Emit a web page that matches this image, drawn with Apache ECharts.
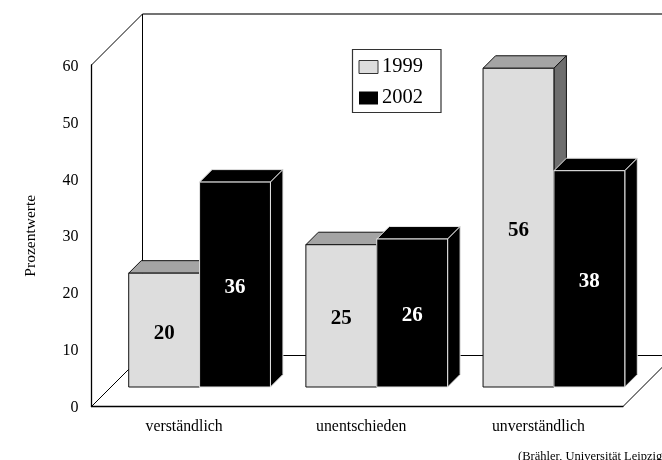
<!DOCTYPE html>
<html>
<head>
<meta charset="utf-8">
<script src="https://cdn.jsdelivr.net/npm/echarts@6/dist/echarts.min.js"></script>
<style>html,body{margin:0;padding:0;background:#fff}#c{width:662px;height:460px}</style>
</head>
<body>
<div id="c"></div>
<script>
const categories = ['verständlich', 'unentschieden', 'unverständlich'];
const values1999 = [20, 25, 56];
const values2002 = [36, 26, 38];
const yTicks = [0, 10, 20, 30, 40, 50, 60];

const SERIF = '"Liberation Serif", "Times New Roman", serif';
const WALL = 51;        // depth of the chart box
const PLANE = 19.5;     // depth at which the bars stand
const BAR_DEPTH = 12.5; // depth of each bar
const BAR_SHARE = 0.4;  // bar width as a share of the category band

const palette = {
  1999: { front: '#dddddd', top: '#a4a4a4', side: '#6e6e6e', edge: '#111111', text: '#000000' },
  2002: { front: '#000000', top: '#000000', side: '#000000', edge: '#e4e4e4', text: '#ffffff' }
};

// Draws one 3D bar: top, side and front faces plus its value.
function barRenderer(year, dir) {
  const c = palette[year];
  return function (params, api) {
    const cat = api.value(0), val = api.value(1);
    const base = api.coord([cat, 0]);
    const head = api.coord([cat, val]);
    const w = api.size([1, 0])[0] * BAR_SHARE;
    const cx = base[0] + PLANE;
    const x0 = dir < 0 ? cx - w : cx, x1 = x0 + w;
    const y0 = head[1] - PLANE, y1 = base[1] - PLANE;
    const d = BAR_DEPTH;
    const edge = { stroke: c.edge, lineWidth: 1 };
    return {
      type: 'group',
      children: [
        { type: 'polygon', shape: { points: [[x0, y0], [x0 + d, y0 - d], [x1 + d, y0 - d], [x1, y0]] },
          style: Object.assign({ fill: c.top }, edge) },
        { type: 'polygon', shape: { points: [[x1, y0], [x1 + d, y0 - d], [x1 + d, y1 - d], [x1, y1]] },
          style: Object.assign({ fill: c.side }, edge) },
        { type: 'rect', shape: { x: x0, y: y0, width: w, height: y1 - y0 },
          style: Object.assign({ fill: c.front }, edge) },
        { type: 'text', x: (x0 + x1) / 2, y: (y0 + y1) / 2 + 3,
          style: { text: String(val), fill: c.text, font: 'bold 21px ' + SERIF,
            align: 'center', verticalAlign: 'middle' } }
      ]
    };
  };
}

// Back wall, side wall and floor outline of the chart box.
function boxRenderer(params) {
  const r = params.coordSys;
  const L = r.x, R = r.x + r.width, T = r.y, B = r.y + r.height;
  const line = (x1, y1, x2, y2, stroke, lineWidth) => ({ type: 'line', shape: { x1, y1, x2, y2 },
    style: { stroke: stroke || '#000', lineWidth: lineWidth || 1 } });
  return {
    type: 'group',
    children: [
      line(L, T, L + WALL, T - WALL),
      line(L + WALL, T - WALL, R + WALL, T - WALL, '#444', 1.3),
      line(L + WALL, T - WALL, L + WALL, B - WALL),
      line(L + WALL, B - WALL, R + WALL, B - WALL),
      line(L, B, L + WALL, B - WALL),
      line(R, B, R + WALL, B - WALL)
    ]
  };
}

const chart = echarts.init(document.getElementById('c'), null, { renderer: 'canvas' });
chart.setOption({
  animation: false,
  backgroundColor: '#ffffff',
  grid: { left: 91.5, top: 65, width: 531.5, height: 341.5 },
  title: {
    text: '(Brähler, Universität Leipzig)',
    left: 518, top: 450.5, padding: 0,
    textStyle: { fontFamily: SERIF, fontSize: 12.5, fontWeight: 'normal', color: '#000' }
  },
  legend: {
    data: [
      { name: '1999', icon: 'rect', itemStyle: { color: palette[1999].front, borderColor: '#333', borderWidth: 1 } },
      { name: '2002', icon: 'rect', itemStyle: { color: palette[2002].front, borderWidth: 0 } }
    ],
    orient: 'vertical',
    left: 352.5, top: 49.5,
    padding: [7, 18, 4, 6],
    itemWidth: 19, itemHeight: 13, itemGap: 10,
    backgroundColor: '#fff', borderColor: '#333', borderWidth: 1.2,
    textStyle: { fontFamily: SERIF, fontSize: 20.5, color: '#000', padding: [0, 0, 0, -1] },
    selectedMode: false
  },
  xAxis: {
    type: 'category',
    data: categories,
    axisLine: { lineStyle: { color: '#000', width: 1.3 } },
    axisTick: { show: false },
    axisLabel: { fontFamily: SERIF, fontSize: 15.8, color: '#000', margin: 12, padding: [0, 0, 0, 8] }
  },
  yAxis: {
    type: 'value', min: yTicks[0], max: yTicks[yTicks.length - 1], interval: yTicks[1] - yTicks[0],
    name: 'Prozentwerte', nameLocation: 'middle', nameRotate: 90, nameGap: 53,
    nameTextStyle: { fontFamily: SERIF, fontSize: 15.5, color: '#000' },
    axisLine: { show: true, lineStyle: { color: '#000', width: 1.3 } },
    axisTick: { show: false },
    splitLine: { show: false },
    axisLabel: {
      margin: 13,
      formatter: '{tick|{value}}',
      rich: { tick: { fontFamily: SERIF, fontSize: 16, color: '#000', padding: [3, 0, 0, 0] } }
    }
  },
  series: [
    { type: 'custom', silent: true, clip: false, z: 1, data: [[0, 0]], renderItem: boxRenderer, tooltip: { show: false } },
    { type: 'custom', name: '1999', clip: false, z: 2, renderItem: barRenderer(1999, -1),
      itemStyle: { color: palette[1999].front },
      data: values1999.map((v, i) => [i, v]) },
    { type: 'custom', name: '2002', clip: false, z: 3, renderItem: barRenderer(2002, 1),
      itemStyle: { color: palette[2002].front },
      data: values2002.map((v, i) => [i, v]) }
  ]
});
</script>
</body>
</html>
